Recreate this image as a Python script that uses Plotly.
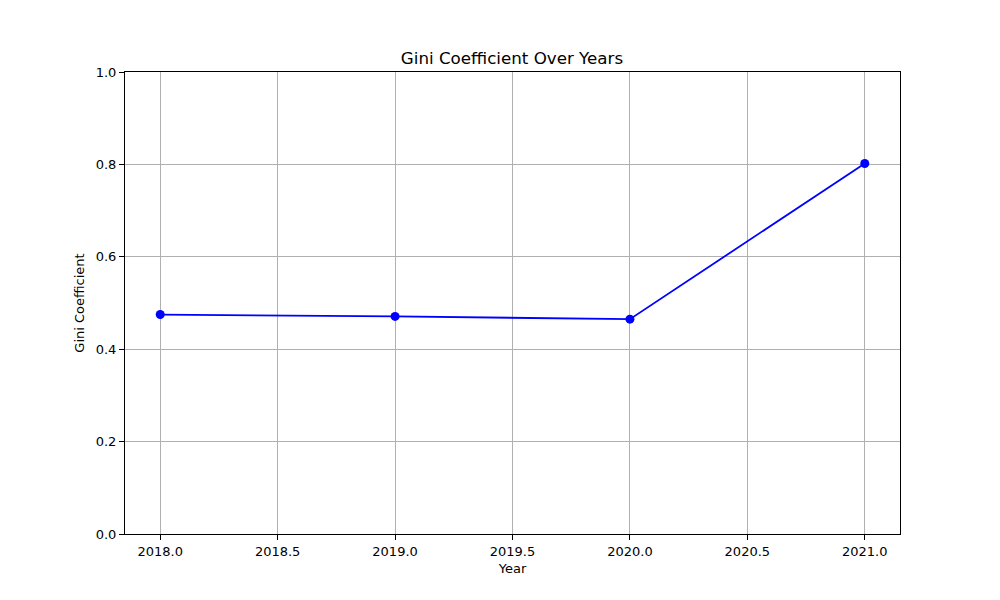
import plotly.graph_objects as go

years = [2018, 2019, 2020, 2021]
gini = [0.475, 0.471, 0.465, 0.802]
x_ticks = [2018.0, 2018.5, 2019.0, 2019.5, 2020.0, 2020.5, 2021.0]
y_ticks = [0.0, 0.2, 0.4, 0.6, 0.8, 1.0]

fig = go.Figure()
fig.add_trace(go.Scatter(
    x=years, y=gini, mode="lines+markers",
    line=dict(color="#0000ff", width=1.8),
    marker=dict(color="#0000ff", size=9),
    showlegend=False,
))

font = "DejaVu Sans, sans-serif"
fig.update_layout(
    width=1000, height=600,
    paper_bgcolor="white", plot_bgcolor="white",
    margin=dict(l=117, r=108, t=64, b=74),
    title=dict(text="Gini Coefficient Over Years", x=0.504, xanchor="center",
               y=1 - 50/600, yanchor="middle",
               font=dict(family=font, size=16.7, color="black")),
    font=dict(family=font, size=13, color="black"),
)
axis_common = dict(
    showgrid=True, gridcolor="#b0b0b0", gridwidth=1,
    showline=True, linecolor="black", linewidth=1, mirror=True,
    ticks="outside", ticklen=5, tickcolor="black", zeroline=False,
    tickfont=dict(family=font, size=13, color="black"),
)
fig.update_xaxes(
    range=[2017.85, 2021.15], tickvals=x_ticks,
    ticktext=[f"{v:.1f}" for v in x_ticks],
    title=dict(text="Year", font=dict(family=font, size=13), standoff=6),
    **axis_common,
)
fig.update_yaxes(
    range=[0, 1], tickvals=y_ticks,
    ticktext=[f"{v:.1f}" for v in y_ticks],
    title=dict(text="Gini Coefficient", font=dict(family=font, size=13), standoff=8),
    **axis_common,
)

fig.write_html("out.html")
